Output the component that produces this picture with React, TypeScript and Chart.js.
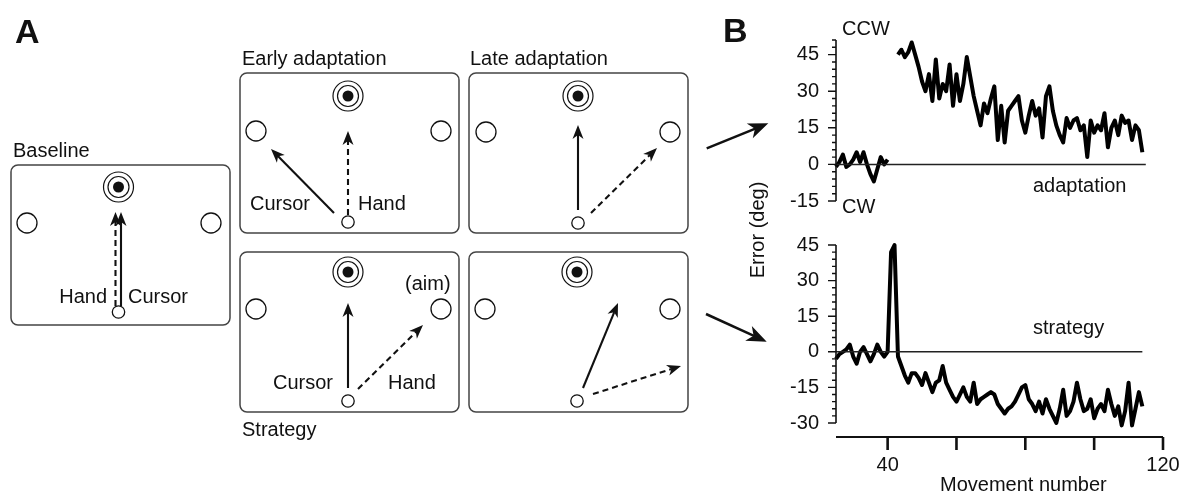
import React, { useEffect, useRef } from "react";
import { Chart, registerables } from "chart.js";

Chart.register(...registerables);

const FONT = '"Liberation Sans", Arial, Helvetica, sans-serif';
const INK = "#111";

// ---------- DATA ----------
const firstMovement = 25;

// Panel B top: adaptation group (baseline movements 25-40, adaptation 43-114)
const adaptationError: (number | null)[] = [
  -1, 1, 4, -1, 0, 2, 5, 1, 5, 0, -4, -7, -2, 3, 0, 2,
  null, null,
  45, 47, 44, 46, 50, 45, 40, 34, 30, 37, 26, 43, 27, 33, 30, 41, 24, 37,
  26, 33, 44, 36, 28, 22, 16, 25, 21, 27, 32, 10, 24, 9, 22, 24, 26, 28,
  18, 13, 20, 26, 20, 23, 11, 28, 32, 22, 16, 12, 9, 19, 15, 18, 19, 14,
  16, 3, 18, 13, 16, 14, 21, 7, 15, 18, 12, 20, 17, 18, 10, 16, 14, 5,
];

// Panel B bottom: strategy group (movements 25-114)
const strategyError: number[] = [
  -3, -1, 0, 1, 3, -2, -5, 0, 2, -1, -4, -1, 3, 0, -2, 0,
  42, 45, -2, -6, -10, -13, -9, -9, -11, -14, -9, -13, -17, -13, -12, -6,
  -13, -16, -19, -21, -18, -15, -19, -21, -13, -22, -20, -19, -18, -17, -18, -22,
  -24, -26, -24, -23, -21, -18, -15, -14, -20, -22, -25, -21, -26, -20, -24, -27,
  -30, -24, -16, -27, -25, -21, -13, -20, -25, -24, -20, -28, -24, -22, -25, -16,
  -22, -27, -23, -31, -25, -13, -31, -24, -17, -23,
];

const topZeroSpan = [25, 115];
const bottomZeroSpan = [25, 114];

const topMajorTicks = [-15, 0, 15, 30, 45];
const bottomMajorTicks = [-30, -15, 0, 15, 30, 45];
const topRange = [-15, 51];
const bottomRange = [-30, 45];
const minorStep = 3;
const xRange = [25, 120];
const xTickValues = [40, 60, 80, 100, 120];
const xTickLabels = [40, 120];

// ---------- helpers ----------
const toPoints = (arr: (number | null)[]) =>
  arr.map((v, i) => ({ x: firstMovement + i, y: v }));

const tickList = (lo: number, hi: number) => {
  const out: number[] = [];
  for (let v = lo; v <= hi; v += minorStep) out.push(v);
  return out;
};

function roundRect(ctx: CanvasRenderingContext2D, x: number, y: number, w: number, h: number, r: number) {
  ctx.beginPath();
  ctx.moveTo(x + r, y);
  ctx.lineTo(x + w - r, y);
  ctx.arcTo(x + w, y, x + w, y + r, r);
  ctx.lineTo(x + w, y + h - r);
  ctx.arcTo(x + w, y + h, x + w - r, y + h, r);
  ctx.lineTo(x + r, y + h);
  ctx.arcTo(x, y + h, x, y + h - r, r);
  ctx.lineTo(x, y + r);
  ctx.arcTo(x, y, x + r, y, r);
  ctx.closePath();
}

function drawArrow(
  ctx: CanvasRenderingContext2D,
  x1: number, y1: number, x2: number, y2: number,
  dashed: boolean, lw: number, hl: number, hw: number
) {
  const a = Math.atan2(y2 - y1, x2 - x1);
  const c = Math.cos(a), s = Math.sin(a);
  const ex = x2 - c * hl * 0.7, ey = y2 - s * hl * 0.7;
  ctx.lineWidth = lw;
  ctx.setLineDash(dashed ? [6, 4] : []);
  ctx.beginPath();
  ctx.moveTo(x1, y1);
  ctx.lineTo(ex, ey);
  ctx.stroke();
  ctx.setLineDash([]);
  ctx.beginPath();
  ctx.moveTo(x2, y2);
  ctx.lineTo(x2 - c * hl - s * hw, y2 - s * hl + c * hw);
  ctx.lineTo(x2 - c * hl * 0.72, y2 - s * hl * 0.72);
  ctx.lineTo(x2 - c * hl + s * hw, y2 - s * hl - c * hw);
  ctx.closePath();
  ctx.fill();
}

function circle(ctx: CanvasRenderingContext2D, x: number, y: number, r: number, fill: string | null, lw = 1.3) {
  ctx.beginPath();
  ctx.arc(x, y, r, 0, Math.PI * 2);
  if (fill) {
    ctx.fillStyle = fill;
    ctx.fill();
  }
  ctx.lineWidth = lw;
  ctx.stroke();
}

type Arrow = [number, number, number, number, boolean];
type Panel = {
  x: number; y: number;
  target: [number, number];
  sides: [number, number][];
  start: [number, number];
  arrows: Arrow[];
  texts: [string, number, number, CanvasTextAlign][];
};

const panels: Panel[] = [
  {
    x: 11, y: 165, target: [118.5, 187], sides: [[27, 223], [211, 223]], start: [118.5, 312],
    arrows: [[115.5, 306, 115.5, 212, true], [121, 306, 121, 212, false]],
    texts: [["Baseline", 13, 157, "left"], ["Hand", 107, 303, "right"], ["Cursor", 128, 303, "left"]],
  },
  {
    x: 240, y: 73, target: [348, 96], sides: [[256, 131], [441, 131]], start: [348, 222],
    arrows: [[334, 213, 271, 149, false], [348, 215, 348, 131, true]],
    texts: [["Early adaptation", 242, 65, "left"], ["Cursor", 250, 210, "left"], ["Hand", 358, 210, "left"]],
  },
  {
    x: 469, y: 73, target: [578, 96], sides: [[486, 132], [670, 132]], start: [578, 223],
    arrows: [[578, 210, 578, 125, false], [591, 213, 657, 148, true]],
    texts: [["Late adaptation", 470, 65, "left"]],
  },
  {
    x: 240, y: 252, target: [348, 272], sides: [[256, 309], [441, 309]], start: [348, 401],
    arrows: [[348, 388, 348, 303, false], [358, 389, 423, 325, true]],
    texts: [["Strategy", 242, 436, "left"], ["Cursor", 273, 389, "left"], ["Hand", 388, 389, "left"], ["(aim)", 405, 290, "left"]],
  },
  {
    x: 469, y: 252, target: [577, 272], sides: [[485, 309], [670, 309]], start: [577, 401],
    arrows: [[583, 388, 618, 303, false], [593, 394, 681, 366, true]],
    texts: [],
  },
];

const overlayPlugin = {
  id: "figureOverlay",
  afterDraw(chart: Chart) {
    const ctx = chart.ctx;
    ctx.save();
    ctx.fillStyle = INK;
    ctx.strokeStyle = INK;
    ctx.textBaseline = "alphabetic";
    ctx.font = `bold 34px ${FONT}`;
    ctx.fillText("A", 15, 43);
    ctx.fillText("B", 723, 42);

    for (const p of panels) {
      ctx.strokeStyle = "#444";
      ctx.lineWidth = 1.5;
      roundRect(ctx, p.x, p.y, 219, 160, 7);
      ctx.stroke();
      ctx.strokeStyle = INK;
      circle(ctx, p.target[0], p.target[1], 15, "#fff", 1.2);
      circle(ctx, p.target[0], p.target[1], 10.5, null, 1.2);
      ctx.beginPath();
      ctx.arc(p.target[0], p.target[1], 5.5, 0, Math.PI * 2);
      ctx.fillStyle = INK;
      ctx.fill();
      for (const s of p.sides) circle(ctx, s[0], s[1], 10, "#fff", 1.3);
      circle(ctx, p.start[0], p.start[1], 6.2, "#fff", 1.3);
      ctx.fillStyle = INK;
      for (const a of p.arrows) drawArrow(ctx, a[0], a[1], a[2], a[3], a[4], 2.1, 14, 5.5);
      ctx.font = `20px ${FONT}`;
      for (const t of p.texts) {
        ctx.textAlign = t[3];
        ctx.fillText(t[0], t[1], t[2]);
      }
      ctx.textAlign = "left";
    }

    drawArrow(ctx, 706.7, 148.3, 768.3, 123.3, false, 2.5, 20, 8);
    drawArrow(ctx, 706, 314, 766.7, 341.7, false, 2.5, 20, 8);

    ctx.font = `20px ${FONT}`;
    ctx.fillText("CCW", 842, 35);
    ctx.fillText("CW", 842, 213);
    ctx.fillText("adaptation", 1033, 192);
    ctx.fillText("strategy", 1033, 334);
    ctx.fillText("Movement number", 940, 491);
    ctx.save();
    ctx.translate(764, 230);
    ctx.rotate(-Math.PI / 2);
    ctx.textAlign = "center";
    ctx.fillText("Error (deg)", 0, 0);
    ctx.restore();
    ctx.restore();
  },
};

function axesPlugin(range: number[], majors: number[], drawX: boolean) {
  return {
    id: "customAxes",
    afterDraw(chart: any) {
      const ctx: CanvasRenderingContext2D = chart.ctx;
      const ys = chart.scales.y;
      const xs = chart.scales.x;
      const ax = chart.chartArea.left;
      ctx.save();
      ctx.strokeStyle = INK;
      ctx.lineWidth = 1.6;
      ctx.beginPath();
      ctx.moveTo(ax, ys.getPixelForValue(range[1]));
      ctx.lineTo(ax, ys.getPixelForValue(range[0]));
      ctx.stroke();
      ctx.lineWidth = 1.4;
      ctx.beginPath();
      for (const t of ys.ticks) {
        const py = ys.getPixelForValue(t.value);
        const len = majors.includes(t.value) ? 8 : 4;
        ctx.moveTo(ax - len, py);
        ctx.lineTo(ax, py);
      }
      ctx.stroke();
      if (drawX) {
        const yl = chart.chartArea.bottom + 14;
        ctx.lineWidth = 2;
        ctx.beginPath();
        ctx.moveTo(xs.getPixelForValue(xRange[0]), yl);
        ctx.lineTo(xs.getPixelForValue(xRange[1]), yl);
        ctx.stroke();
        ctx.lineWidth = 2.6;
        ctx.beginPath();
        for (const v of xTickValues) {
          const px = xs.getPixelForValue(v);
          ctx.moveTo(px, yl);
          ctx.lineTo(px, yl + 13);
        }
        ctx.stroke();
      }
      ctx.restore();
    },
  };
}

function lineChartConfig(
  series: (number | null)[],
  zeroSpan: number[],
  range: number[],
  majors: number[],
  showX: boolean,
  padding: any
): any {
  const ticks = tickList(range[0], range[1]);
  return {
    type: "line",
    data: {
      datasets: [
        {
          data: zeroSpan.map((x) => ({ x, y: 0 })),
          borderColor: "#222",
          borderWidth: 1.5,
          pointRadius: 0,
        },
        {
          data: toPoints(series),
          borderColor: "#000",
          borderWidth: 4,
          pointRadius: 0,
          tension: 0,
          spanGaps: false,
          borderJoinStyle: "round",
          clip: false,
        },
      ],
    },
    options: {
      responsive: false,
      animation: false,
      devicePixelRatio: 1,
      events: [],
      layout: { padding },
      plugins: { legend: { display: false }, tooltip: { enabled: false } },
      scales: {
        x: {
          type: "linear",
          min: xRange[0],
          max: xRange[1],
          display: showX,
          afterFit: (s: any) => {
            s.height = showX ? 60 : 0;
          },
          afterBuildTicks: (s: any) => {
            s.ticks = xTickValues.map((v) => ({ value: v }));
          },
          grid: { display: false, drawTicks: true, tickLength: 30 },
          border: { display: false },
          ticks: {
            padding: 0,
            autoSkip: false,
            maxRotation: 0,
            color: INK,
            font: { family: FONT, size: 20 },
            callback: (v: any) => (xTickLabels.includes(Number(v)) ? String(v) : ""),
          },
        },
        y: {
          type: "linear",
          min: range[0],
          max: range[1],
          afterFit: (s: any) => {
            s.width = 60;
          },
          afterBuildTicks: (s: any) => {
            s.ticks = ticks.map((v) => ({ value: v }));
          },
          grid: { display: false, drawTicks: true, tickLength: 17 },
          border: { display: false },
          ticks: {
            padding: 0,
            autoSkip: false,
            color: INK,
            font: { family: FONT, size: 20 },
            callback: (v: any) => (majors.includes(Number(v)) ? String(v) : ""),
          },
        },
      },
    },
    plugins: [axesPlugin(range, majors, showX)],
  };
}

export default function App() {
  const overlayRef = useRef<HTMLCanvasElement>(null);
  const topRef = useRef<HTMLCanvasElement>(null);
  const botRef = useRef<HTMLCanvasElement>(null);

  useEffect(() => {
    document.body.style.margin = "0";
    const charts: Chart[] = [];
    charts.push(
      new Chart(overlayRef.current!, {
        type: "scatter",
        data: { datasets: [] },
        options: {
          responsive: false,
          animation: false,
          devicePixelRatio: 1,
          events: [],
          plugins: { legend: { display: false }, tooltip: { enabled: false } },
          scales: { x: { display: false }, y: { display: false } },
        },
        plugins: [overlayPlugin],
      } as any)
    );
    charts.push(
      new Chart(
        topRef.current!,
        lineChartConfig(adaptationError, topZeroSpan, topRange, topMajorTicks, false, {
          top: 14, bottom: 14, left: 0, right: 21,
        })
      )
    );
    charts.push(
      new Chart(
        botRef.current!,
        lineChartConfig(strategyError, bottomZeroSpan, bottomRange, bottomMajorTicks, true, {
          top: 14, bottom: 0, left: 0, right: 21,
        })
      )
    );
    return () => charts.forEach((c) => c.destroy());
  }, []);

  return (
    <div
      style={{
        position: "absolute",
        left: 0,
        top: 0,
        width: 1184,
        height: 501,
        background: "#fff",
        overflow: "hidden",
      }}
    >
      <canvas ref={overlayRef} width={1184} height={501} style={{ position: "absolute", left: 0, top: 0 }} />
      <canvas ref={topRef} width={408} height={189} style={{ position: "absolute", left: 776, top: 26 }} />
      <canvas ref={botRef} width={408} height={252} style={{ position: "absolute", left: 776, top: 231 }} />
    </div>
  );
}
